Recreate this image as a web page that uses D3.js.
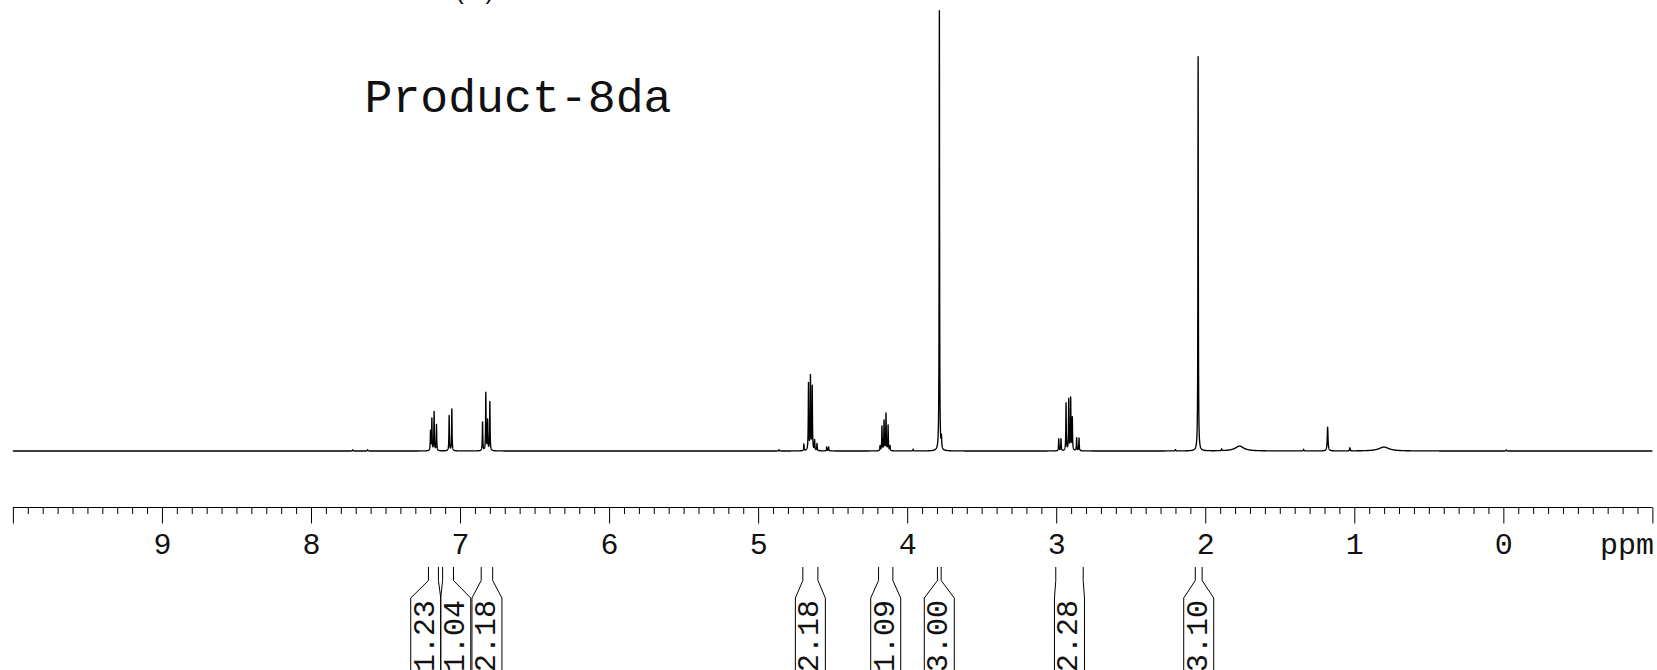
<!DOCTYPE html>
<html>
<head>
<meta charset="utf-8">
<script src="https://cdn.jsdelivr.net/npm/d3@7"></script>
<style>
  html, body { margin: 0; padding: 0; background: #fff; }
  svg { display: block; }
  text { font-family: "Liberation Mono", "Courier New", monospace; fill: #111; }
</style>
</head>
<body>
<svg id="chart" width="1657" height="670"></svg>
<script>
// ---------------- data ----------------
const title = "Product-8da";
const panelTag = "(a)";

// peak list: position (ppm), intensity (% of tallest), half-width (ppm)
const peakPpm = [
  7.198, 7.189, 7.174, 7.158,
  7.073, 7.055,
  6.849, 6.827, 6.815, 6.800,
  4.693, 4.662, 4.649, 4.637, 4.621, 4.605, 4.540, 4.527,
  4.182, 4.169, 4.155, 4.142, 4.128, 4.115,
  3.784, 3.770,
  2.983, 2.968, 2.934, 2.916, 2.903, 2.892, 2.863, 2.847,
  2.048,
  1.890, 1.770, 1.340, 1.179, 1.030, 0.801, -0.020,
  7.620, 7.720, 4.860, 3.960, 2.200
];
const peakHeight = [
  4.4, 7.2, 8.8, 5.9,
  8.0, 9.5,
  6.5, 13.1, 6.8, 11.1,
  1.5, 15.2, 16.8, 14.5, 2.3, 1.6, 0.9, 0.9,
  1.1, 5.5, 6.8, 8.4, 5.7, 1.1,
  100, 2.5,
  2.7, 2.7, 10.8, 11.6, 11.8, 7.4, 2.9, 2.9,
  89.6,
  0.4, 1.1, 0.4, 5.4, 0.7, 0.9, 0.25,
  0.3, 0.3, 0.3, 0.4, 0.3
];
const peakWidth = [
  0.0018, 0.0018, 0.0018, 0.0018,
  0.0018, 0.0018,
  0.0018, 0.0018, 0.0018, 0.0018,
  0.0018, 0.0018, 0.0018, 0.0018, 0.0018, 0.0018, 0.0018, 0.0018,
  0.0018, 0.0018, 0.0018, 0.0018, 0.0018, 0.0018,
  0.0016, 0.0020,
  0.0018, 0.0018, 0.0018, 0.0018, 0.0018, 0.0018, 0.0018, 0.0018,
  0.0016,
  0.0020, 0.0350, 0.0020, 0.0030, 0.0020, 0.0400, 0.0020,
  0.0020, 0.0020, 0.0020, 0.0020, 0.0020
];

// axis
const ppmDomain = [10, -1];
const majorTicks = [10, 9, 8, 7, 6, 5, 4, 3, 2, 1, 0, -1];
const tickLabels = ["", "9", "8", "7", "6", "5", "4", "3", "2", "1", "0", ""];
const axisUnit = "ppm";

// integrals
const intFrom   = [7.212, 7.117, 6.858, 4.700, 4.192, 3.797, 3.003, 2.067];
const intTo     = [7.145, 7.044, 6.781, 4.599, 4.096, 3.772, 2.819, 2.021];
const intLabels = ["1.23", "1.04", "2.18", "2.18", "1.09", "3.00", "2.28", "3.10"];

// ---------------- drawing ----------------
const svg = d3.select("#chart");
const W = 1657, H = 670;
svg.append("rect").attr("width", W).attr("height", H).attr("fill", "#fff");

const x = d3.scaleLinear().domain(ppmDomain).range([12.9, 1652.4]);
const y = d3.scaleLinear().domain([0, 100]).range([451, 11]);

// spectrum line (Lorentzian line shapes from the peak list)
const grid = d3.range(ppmDomain[0], ppmDomain[1] - 1e-9, -0.0004).concat(peakPpm)
  .filter(p => p <= ppmDomain[0] && p >= ppmDomain[1])
  .sort((a, b) => b - a);
const spec = grid.map(p => {
  let s = 0;
  for (let i = 0; i < peakPpm.length; i++) {
    const d = p - peakPpm[i], w = peakWidth[i];
    s += peakHeight[i] * w * w / (d * d + w * w);
  }
  return [p, s];
});
svg.append("path")
  .datum(spec)
  .attr("fill", "none")
  .attr("stroke", "#000")
  .attr("stroke-width", 1.35)
  .attr("stroke-linejoin", "round")
  .attr("d", d3.line().x(d => x(d[0])).y(d => y(d[1])));

// title and partial panel tag
svg.append("text").attr("x", 364.5).attr("y", 111.7)
  .style("font-size", "46.5px").text(title);
svg.append("text").attr("x", 453).attr("y", -1)
  .style("font-size", "24px").text(panelTag);

// axis
const axisY = 507.5;
const minorTicks = d3.range(100, -11, -1).map(v => v / 10).filter(v => !Number.isInteger(v));
const gMinor = svg.append("g").attr("transform", `translate(0,${axisY})`)
  .call(d3.axisBottom(x).tickValues(minorTicks).tickSize(6.5).tickSizeOuter(0).tickFormat(""));
gMinor.select(".domain").remove();
gMinor.selectAll(".tick line").attr("stroke", "#000");

const gMajor = svg.append("g").attr("transform", `translate(0,${axisY})`)
  .call(d3.axisBottom(x).tickValues(majorTicks).tickSize(16).tickSizeOuter(0)
    .tickFormat((d, i) => tickLabels[i]));
gMajor.select(".domain").attr("stroke", "#000").attr("d", `M${x(ppmDomain[0])},0H${x(ppmDomain[1])}`);
gMajor.selectAll(".tick line").attr("stroke", "#000");
gMajor.selectAll(".tick text")
  .attr("y", 46.5).attr("dy", null)
  .attr("fill", "#111")
  .style("font-family", "Liberation Mono, Courier New, monospace")
  .style("font-size", "30px");
svg.append("text")
  .attr("x", x(ppmDomain[1]) + 1.5).attr("y", axisY + 46.5)
  .attr("text-anchor", "end")
  .style("font-size", "30px").text(axisUnit);

// integral brackets with packed label boxes
const boxW = 30;
const items = intLabels.map((lab, i) => {
  const a = x(intFrom[i]), b = x(intTo[i]);
  return { lab, a, b, c: (a + b) / 2 };
}).sort((p, q) => p.c - q.c);
let clusters = items.map(it => ({ members: [it] }));
const cCenter = cl => d3.mean(cl.members, m => m.c);
let merged = true;
while (merged) {
  merged = false;
  for (let i = 0; i < clusters.length - 1; i++) {
    const A = clusters[i], B = clusters[i + 1];
    const aR = cCenter(A) + A.members.length * boxW / 2;
    const bL = cCenter(B) - B.members.length * boxW / 2;
    if (aR > bL) {
      clusters.splice(i, 2, { members: A.members.concat(B.members) });
      merged = true;
      break;
    }
  }
}
clusters.forEach(cl => {
  const left = cCenter(cl) - cl.members.length * boxW / 2;
  cl.members.forEach((m, k) => { m.bl = left + k * boxW; m.br = m.bl + boxW; });
});

const yTop = 567, yBend = 580.5, yBox = 598, yBot = 672;
const gInt = svg.append("g");
items.forEach(m => {
  const line = d3.line();
  gInt.append("path")
    .attr("d", line([[m.a, yTop], [m.a, yBend], [m.bl, yBox], [m.bl, yBot]]))
    .attr("fill", "none").attr("stroke", "#000").attr("stroke-width", 1);
  gInt.append("path")
    .attr("d", line([[m.b, yTop], [m.b, yBend], [m.br, yBox], [m.br, yBot]]))
    .attr("fill", "none").attr("stroke", "#000").attr("stroke-width", 1);
  gInt.append("text")
    .attr("transform", `translate(${(m.bl + m.br) / 2},600) rotate(-90)`)
    .attr("text-anchor", "end")
    .attr("dominant-baseline", "central")
    .style("font-size", "30px")
    .text(m.lab);
});
</script>
</body>
</html>
